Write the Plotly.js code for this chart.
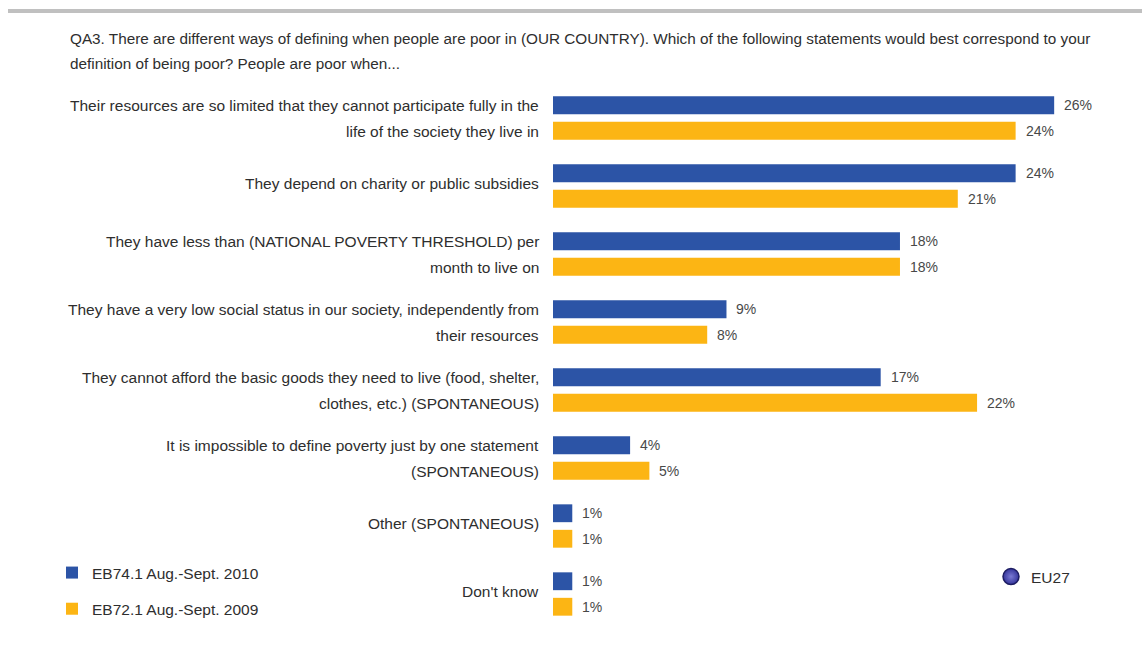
<!DOCTYPE html>
<html>
<head>
<meta charset="utf-8">
<script src="https://cdn.plot.ly/plotly-3.0.1.min.js"></script>
<style>
  html, body { margin: 0; padding: 0; background: #ffffff; }
  #chart { width: 1142px; height: 651px; }
</style>
</head>
<body>
<div id="chart"></div>
<script>
// ---- data ----
const titleLines = [
  "QA3. There are different ways of defining when people are poor in (OUR COUNTRY). Which of the following statements would best correspond to your",
  "definition of being poor? People are poor when..."
];
const categories = [
  "Their resources are so limited that they cannot participate fully in the<br>life of the society they live in",
  "They depend on charity or public subsidies",
  "They have less than (NATIONAL POVERTY THRESHOLD) per<br>month to live on",
  "They have a very low social status in our society, independently from<br>their resources",
  "They cannot afford the basic goods they need to live (food, shelter,<br>clothes, etc.) (SPONTANEOUS)",
  "It is impossible to define poverty just by one statement<br>(SPONTANEOUS)",
  "Other (SPONTANEOUS)",
  "Don't know"
];
const series2010Name = "EB74.1 Aug.-Sept. 2010";
const series2009Name = "EB72.1 Aug.-Sept. 2009";
const values2010 = [26, 24, 18, 9, 17, 4, 1, 1];
const values2009 = [24, 21, 18, 8, 22, 5, 1, 1];
const eu27Label = "EU27";

// ---- layout helpers ----
const W = 1142, H = 651;
const M = { l: 553, r: 30, t: 84, b: 23 };
const PW = W - M.l - M.r, PH = H - M.t - M.b;
const px2x = px => (px - M.l) / PW;
const py2y = py => (H - M.b - py) / PH;

const FONT = '"Liberation Sans", Arial, sans-serif';
const FS = 15.5;
const BLUE = '#2c54a6';
const ORANGE = '#fcb514';
const TXT = '#2e2e2e';
const VAL = '#484848';

const traces = [
  {
    type: 'bar', orientation: 'h', name: series2010Name,
    y: categories, x: values2010,
    marker: { color: BLUE }, legendgroup: 'a', hoverinfo: 'x+name'
  },
  {
    type: 'bar', orientation: 'h', name: series2009Name,
    y: categories, x: values2009,
    marker: { color: ORANGE }, legendgroup: 'b', hoverinfo: 'x+name'
  },
  {
    type: 'scatter', mode: 'markers', name: eu27Label,
    x: [-5], y: [-5], xaxis: 'x2', yaxis: 'y2', legend: 'legend2',
    marker: { symbol: 'circle', size: 18, color: '#34349a',
              gradient: { type: 'radial', color: '#7a7ad4' },
              line: { color: '#1d1d62', width: 1.5 } },
    hoverinfo: 'skip'
  }
];

const annotations = [];
titleLines.forEach((t, i) => {
  annotations.push({
    xref: 'paper', yref: 'paper', x: px2x(68), y: py2y(38 + i * 25),
    xanchor: 'left', yanchor: 'middle', showarrow: false, text: t,
    font: { family: FONT, size: 15.3, color: TXT }
  });
});
categories.forEach((c, i) => {
  const lines = c.split('<br>');
  if (lines.length === 1) {
    annotations.push({
      xref: 'paper', yref: 'y', x: 0, y: c, xanchor: 'right', yanchor: 'middle',
      xshift: -12, yshift: 3, showarrow: false, text: lines[0],
      font: { family: FONT, size: FS, color: TXT }
    });
  } else {
    lines.forEach((ln, j) => {
      annotations.push({
        xref: 'paper', yref: 'y', x: 0, y: c, xanchor: 'right', yanchor: 'middle',
        xshift: -12, yshift: j === 0 ? 13 : -13, showarrow: false, text: ln,
        font: { family: FONT, size: FS, color: TXT }
      });
    });
  }
  annotations.push({
    xref: 'x', yref: 'y', x: values2010[i], y: c, xanchor: 'left', yanchor: 'middle',
    xshift: 8, yshift: 13, showarrow: false, text: values2010[i] + '%',
    font: { family: FONT, size: 14, color: VAL }
  });
  annotations.push({
    xref: 'x', yref: 'y', x: values2009[i], y: c, xanchor: 'left', yanchor: 'middle',
    xshift: 8, yshift: -13, showarrow: false, text: values2009[i] + '%',
    font: { family: FONT, size: 14, color: VAL }
  });
});

const layout = {
  width: W, height: H,
  margin: M,
  paper_bgcolor: '#ffffff', plot_bgcolor: '#ffffff',
  barmode: 'group', bargap: 0.25, bargroupgap: 0.3,
  showlegend: true,
  xaxis: { range: [0, 29], visible: false, fixedrange: true },
  yaxis: { autorange: 'reversed', showticklabels: false, ticks: '', showgrid: false,
           zeroline: false, showline: false, fixedrange: true },
  xaxis2: { range: [0, 1], visible: false, overlaying: 'x' },
  yaxis2: { range: [0, 1], visible: false, overlaying: 'y' },
  legend: {
    x: px2x(52), y: py2y(556), xanchor: 'left', yanchor: 'top',
    traceorder: 'grouped', tracegroupgap: 13,
    font: { family: FONT, size: FS, color: TXT },
    bgcolor: 'rgba(0,0,0,0)', itemwidth: 30
  },
  legend2: {
    x: px2x(991), y: py2y(560), xanchor: 'left', yanchor: 'top',
    font: { family: FONT, size: FS, color: TXT },
    bgcolor: 'rgba(0,0,0,0)', itemwidth: 30
  },
  shapes: [
    { type: 'line', xref: 'paper', yref: 'paper', x0: px2x(8), x1: px2x(1142),
      y0: py2y(11), y1: py2y(11), line: { color: '#c0c0c0', width: 4 } }
  ],
  annotations: annotations
};

Plotly.newPlot('chart', traces, layout, { displayModeBar: false, staticPlot: true });
</script>
</body>
</html>
